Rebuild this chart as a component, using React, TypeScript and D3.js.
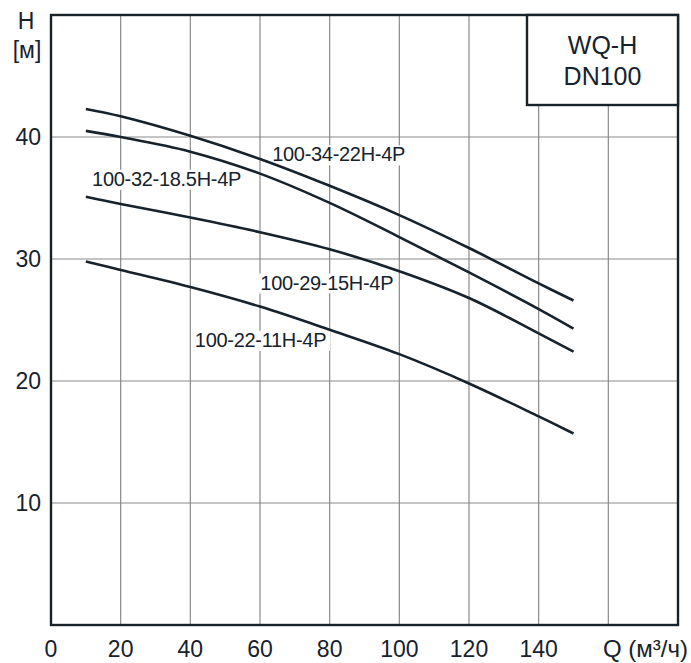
import React from "react";
import * as d3 from "d3";

const flowQ = [10, 20, 40, 60, 80, 100, 120, 140, 150];
const head34 = [42.3, 41.7, 40.1, 38.2, 36.0, 33.6, 30.9, 28.0, 26.6];
const head32 = [40.5, 40.0, 38.8, 37.0, 34.6, 31.8, 28.9, 25.9, 24.3];
const head29 = [35.1, 34.5, 33.4, 32.2, 30.8, 29.0, 26.8, 23.9, 22.4];
const head22 = [29.8, 29.1, 27.7, 26.1, 24.2, 22.2, 19.8, 17.1, 15.7];

const seriesNames = ["100-34-22H-4P", "100-32-18.5H-4P", "100-29-15H-4P", "100-22-11H-4P"];
const seriesValues = [head34, head32, head29, head22];
// label anchor in data coords (left x, baseline y)
const labelQ = [63.5, 11.8, 60.1, 41.3];
const labelH = [38.0, 36.0, 27.5, 22.8];

const xTicks = [0, 20, 40, 60, 80, 100, 120, 140];
const xGrid = [20, 40, 60, 80, 100, 120, 140, 160];
const yTicks = [10, 20, 30, 40];
const legendLines = ["WQ-H", "DN100"];

const W = 691;
const H = 663;
const left = 51;
const right = 678;
const top = 15;
const bottom = 625;

const dark = "#16222c";
const FONT = "'Liberation Sans', Arial, sans-serif";

export default function App() {
  const x = d3.scaleLinear().domain([0, 180]).range([left, right]);
  const y = d3.scaleLinear().domain([0, 50]).range([bottom, top]);
  const line = d3
    .line<[number, number]>()
    .x((d) => x(d[0]))
    .y((d) => y(d[1]))
    .curve(d3.curveCatmullRom.alpha(0.5));

  const labelFont = 20;
  const approxWidth = (s: string) => {
    let w = 0;
    for (const c of s) {
      if (c >= "0" && c <= "9") w += 0.556;
      else if (c === "-") w += 0.333;
      else if (c === ".") w += 0.278;
      else if (c === "H") w += 0.722;
      else if (c === "P") w += 0.667;
      else w += 0.6;
    }
    return w * labelFont - 0.3 * (s.length - 1);
  };

  return (
    <svg
      width={W}
      height={H}
      style={{ position: "absolute", left: 0, top: 0, background: "#fff" }}
      fontFamily={FONT}
    >
      <rect x={0} y={0} width={W} height={H} fill="#fff" />
      {xGrid.map((v) => (
        <line key={"gx" + v} x1={x(v)} x2={x(v)} y1={top} y2={bottom} stroke="#8a8a8a" strokeWidth={1.2} />
      ))}
      {yTicks.map((v) => (
        <line key={"gy" + v} x1={left} x2={right} y1={y(v)} y2={y(v)} stroke="#8a8a8a" strokeWidth={1.2} />
      ))}
      {seriesNames.map((name, i) => {
        const lx = x(labelQ[i]);
        const ly = y(labelH[i]);
        const w = approxWidth(name);
        return (
          <rect key={"bg" + i} x={lx - 2} y={ly - 16} width={w + 4} height={20} fill="#fff" />
        );
      })}
      {seriesValues.map((vals, i) => (
        <path
          key={"c" + i}
          d={line(flowQ.map((q, j) => [q, vals[j]] as [number, number])) || ""}
          fill="none"
          stroke={dark}
          strokeWidth={2.6}
        />
      ))}
      {seriesNames.map((name, i) => (
        <text
          key={"lb" + i}
          x={x(labelQ[i])}
          y={y(labelH[i])}
          fontSize={labelFont}
          letterSpacing={-0.3}
          fill={dark}
        >
          {name}
        </text>
      ))}
      <rect x={left} y={top} width={right - left} height={bottom - top} fill="none" stroke={dark} strokeWidth={2.4} />
      <rect x={527} y={top} width={right - 527} height={90} fill="#fff" stroke={dark} strokeWidth={2.4} />
      {legendLines.map((t, i) => (
        <text
          key={"lg" + i}
          x={(527 + right) / 2}
          y={54 + i * 31}
          fontSize={25}
          textAnchor="middle"
          fill={dark}
        >
          {t}
        </text>
      ))}
      {yTicks.map((v) => (
        <text key={"yt" + v} x={41} y={y(v) + 8} fontSize={23} textAnchor="end" fill={dark}>
          {v}
        </text>
      ))}
      {xTicks.map((v) => (
        <text key={"xt" + v} x={x(v)} y={657} fontSize={23} textAnchor="middle" fill={dark}>
          {v}
        </text>
      ))}
      <text x={688} y={657} fontSize={24} textAnchor="end" fill={dark}>
        Q (м³/ч)
      </text>
      <text x={26} y={29} fontSize={23} textAnchor="middle" fill={dark}>
        H
      </text>
      <text x={27} y={58} fontSize={23} textAnchor="middle" fill={dark}>
        [м]
      </text>
    </svg>
  );
}
